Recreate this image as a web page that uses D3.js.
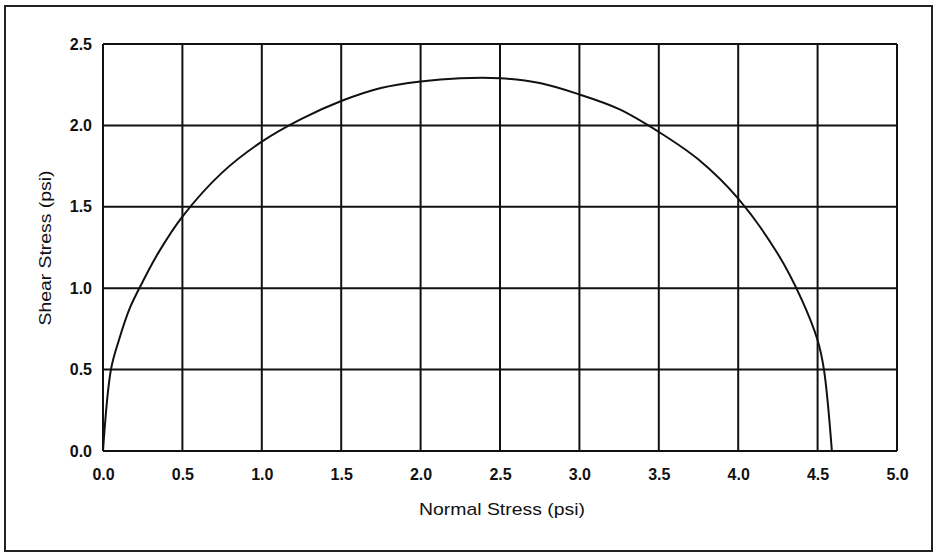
<!DOCTYPE html>
<html>
<head>
<meta charset="utf-8">
<script src="https://cdn.jsdelivr.net/npm/d3@7"></script>
<style>
  html, body { margin: 0; padding: 0; background: #fff; }
  svg { display: block; }
  text { font-family: "Liberation Sans", Arial, Helvetica, sans-serif; fill: #111; }
</style>
</head>
<body>
<svg id="chart" width="934" height="554"></svg>
<script>
// Mohr envelope: normal stress (psi) vs shear stress (psi)
const normalStress = [0.00, 0.05, 0.10, 0.17, 0.25, 0.35, 0.50, 0.75, 1.00, 1.25, 1.50, 1.75,
                      2.00, 2.25, 2.50, 2.75, 3.00, 3.25, 3.50, 3.75, 4.00, 4.25, 4.40, 4.50, 4.54, 4.59];
const shearStress  = [0.00, 0.50, 0.68, 0.88, 1.04, 1.22, 1.44, 1.71, 1.90, 2.04, 2.15, 2.23,
                      2.27, 2.29, 2.29, 2.26, 2.19, 2.10, 1.96, 1.79, 1.55, 1.21, 0.93, 0.68, 0.50, 0.00];
const xTicks = [0, 0.5, 1.0, 1.5, 2.0, 2.5, 3.0, 3.5, 4.0, 4.5, 5.0];
const yTicks = [0, 0.5, 1.0, 1.5, 2.0, 2.5];
const xTitle = "Normal Stress (psi)";
const yTitle = "Shear Stress (psi)";

const svg = d3.select("#chart");
const plot = { left: 103, right: 897, top: 44, bottom: 451 };

const x = d3.scaleLinear().domain([0, 5]).range([plot.left, plot.right]);
const y = d3.scaleLinear().domain([0, 2.5]).range([plot.bottom, plot.top]);

// outer frame
svg.append("rect")
  .attr("x", 5).attr("y", 6).attr("width", 927).attr("height", 545)
  .attr("fill", "none").attr("stroke", "#222").attr("stroke-width", 2);

// grid (vertical lines from x ticks, horizontal from y ticks)
const grid = svg.append("g").attr("stroke", "#111").attr("stroke-width", 2);
grid.selectAll("line.v").data(xTicks).join("line")
  .attr("class", "v")
  .attr("x1", d => x(d)).attr("x2", d => x(d))
  .attr("y1", y(0)).attr("y2", y(2.5));
grid.selectAll("line.h").data(yTicks).join("line")
  .attr("class", "h")
  .attr("x1", x(0)).attr("x2", x(5))
  .attr("y1", d => y(d)).attr("y2", d => y(d));

// axes (labels only; the grid draws the lines)
const xAxis = d3.axisBottom(x).tickValues(xTicks).tickFormat(d3.format(".1f")).tickSize(0).tickPadding(18);
const yAxis = d3.axisLeft(y).tickValues(yTicks).tickFormat(d3.format(".1f")).tickSize(0).tickPadding(11);

const gx = svg.append("g").attr("transform", `translate(0,${plot.bottom})`).call(xAxis);
const gy = svg.append("g").attr("transform", `translate(${plot.left},0)`).call(yAxis);
[gx, gy].forEach(g => {
  g.select(".domain").remove();
  g.selectAll("text")
    .style("font-family", "'Liberation Sans', Arial, sans-serif")
    .style("font-size", "16px")
    .style("font-weight", "bold")
    .attr("fill", "#1a1a1a");
});

// curve
const pts = normalStress.map((v, i) => [v, shearStress[i]]);
svg.append("path")
  .datum(pts)
  .attr("fill", "none")
  .attr("stroke", "#111")
  .attr("stroke-width", 2)
  .attr("d", d3.line().x(d => x(d[0])).y(d => y(d[1])).curve(d3.curveCatmullRom.alpha(0.5)));

// axis titles
svg.append("text")
  .attr("x", 502).attr("y", 515)
  .attr("text-anchor", "middle")
  .attr("textLength", 166).attr("lengthAdjust", "spacingAndGlyphs")
  .style("font-size", "17px")
  .text(xTitle);

svg.append("text")
  .attr("transform", "translate(51,248) rotate(-90)")
  .attr("text-anchor", "middle")
  .attr("textLength", 155).attr("lengthAdjust", "spacingAndGlyphs")
  .style("font-size", "17px")
  .text(yTitle);
</script>
</body>
</html>
